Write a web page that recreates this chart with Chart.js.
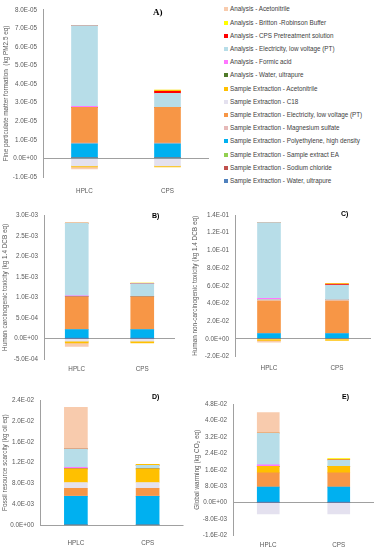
<!DOCTYPE html>
<html>
<head>
<meta charset="utf-8">
<script src="https://cdn.jsdelivr.net/npm/chart.js@4.4.1/dist/chart.umd.min.js"></script>
<style>
  body { margin: 0; background: #fff; width: 377px; height: 550px; overflow: hidden; position: relative; font-family: 'Liberation Sans', Arial, sans-serif; }
  canvas { position: absolute; }
  .tag { position: absolute; font-weight: bold; color: #000; white-space: nowrap; }
  .item { position: absolute; left: 224px; white-space: nowrap; font-size: 6.3px; color: #404040; height: 8px; line-height: 8px; }
  .item i { position: absolute; left: 0; top: 2px; width: 4px; height: 4px; }
  .item b { position: absolute; left: 6px; top: 0; font-weight: normal; }
</style>
</head>
<body>
<script>
// stacking order, bottom of the column first
const categories = ['HPLC', 'CPS'];
const seriesNames = [
  'Sample Extraction - Water, ultrapure',
  'Sample Extraction - Sodium chloride',
  'Sample Extraction - Sample extract EA',
  'Sample Extraction - Polyethylene, high density',
  'Sample Extraction - Magnesium sulfate',
  'Sample Extraction - Electricity, low voltage (PT)',
  'Sample Extraction - C18',
  'Sample Extraction - Acetonitrile',
  'Analysis - Water, ultrapure',
  'Analysis - Formic acid',
  'Analysis - Electricity, low voltage (PT)',
  'Analysis - CPS Pretreatment solution',
  'Analysis - Britton -Robinson Buffer',
  'Analysis - Acetonitrile'
];
const seriesColors = ['#4f81bd', '#c0504d', '#92d050', '#00b0f0', '#e6b9b8', '#f79646', '#e4e1ef',
  '#ffc000', '#4f7a28', '#ff77ff', '#b7dde8', '#ff0000', '#ffff00', '#f8cbad'];

// [HPLC, CPS] for each series, same order as seriesNames
const fineParticulate = [
  [3e-7, 3e-7], [0, 0], [0, 0], [7.5e-6, 7.5e-6], [5e-7, 5e-7], [1.92e-5, 1.92e-5], [-4e-6, -4e-6],
  [-6e-7, -6e-7], [0, 0], [6e-7, 0], [4.34e-5, 7.5e-6], [0, 1.2e-6], [0, 6e-7], [-1.1e-6, 0]
];
const humanCarcinogenic = [
  [5e-6, 5e-6], [0, 0], [0, 0], [2.15e-4, 2.15e-4], [4e-6, 4e-6], [7.96e-4, 7.96e-4], [-6.5e-5, -6.5e-5],
  [-4e-5, -4e-5], [0, 0], [2e-5, 0], [1.78e-3, 3.2e-4], [0, 1e-5], [0, 6e-6], [-8.5e-5, 0]
];
const humanNonCarcinogenic = [
  [5e-4, 5e-4], [0, 0], [0, 0], [5.5e-3, 5.5e-3], [5e-4, 5e-4], [3.65e-2, 3.65e-2], [1.5e-3, 1.5e-3],
  [-1.5e-3, -1.5e-3], [0, 0], [1.5e-3, 0], [8.55e-2, 1.65e-2], [0, 1e-3], [0, 5e-4], [-2.2e-3, 0]
];
const fossilScarcity = [
  [5e-5, 5e-5], [0, 0], [0, 0], [5.5e-3, 5.5e-3], [5e-5, 5e-5], [1.5e-3, 1.5e-3], [1.1e-3, 1.1e-3],
  [2.62e-3, 2.62e-3], [0, 0], [3e-4, 0], [3.53e-3, 6.5e-4], [0, 5e-5], [0, 1.5e-4], [7.95e-3, 0]
];
const globalWarming = [
  [1e-4, 1e-4], [0, 0], [0, 0], [7.4e-3, 7.4e-3], [1e-4, 1e-4], [6.9e-3, 6.9e-3], [-5.5e-3, -5.5e-3],
  [3.2e-3, 3.2e-3], [0, 0], [7e-4, 0], [1.56e-2, 3.1e-3], [0, 1e-4], [0, 6e-4], [9.9e-3, 0]
];

const axisColor = '#a0a0a0';
const textColor = '#595959';
const font = { family: "'Liberation Sans', Arial, sans-serif", size: 6.3 };

function sci(v) {
  if (Math.abs(v) < 1e-15) {
    return '0.0E+00';
  }
  let parts = v.toExponential(1).split('e');
  let n = parseInt(parts[1], 10);
  return parts[0] + 'E' + (n < 0 ? '-' : '+') + String(Math.abs(n)).padStart(2, '0');
}

function makeChart(box, area, yAxis, values, barW, labelPad, titlePad) {
  let canvas = document.createElement('canvas');
  canvas.width = box.w;
  canvas.height = box.h;
  canvas.style.left = box.x + 'px';
  canvas.style.top = box.y + 'px';
  document.body.appendChild(canvas);
  let datasets = seriesNames.map((name, i) => {
    return {
      label: name,
      data: values[i].map((v) => v),
      backgroundColor: seriesColors[i],
      borderWidth: 0,
      barThickness: barW,
      stack: 's'
    };
  });
  new Chart(canvas, {
    type: 'bar',
    data: { labels: categories, datasets: datasets },
    options: {
      responsive: false,
      animation: false,
      layout: { padding: { left: 0, top: area.t - box.y, right: box.x + box.w - area.r, bottom: 0 } },
      plugins: { legend: { display: false }, tooltip: { enabled: false } },
      scales: {
        x: {
          stacked: true,
          grid: { display: false, drawTicks: false },
          border: { display: false },
          ticks: { font: font, color: textColor, padding: labelPad, maxRotation: 0 },
          afterFit: (s) => { s.height = box.y + box.h - area.b; }
        },
        y: {
          stacked: true,
          min: yAxis.min,
          max: yAxis.max,
          ticks: { stepSize: yAxis.step, callback: (v) => sci(v), font: font, color: textColor, padding: 6 },
          grid: {
            drawTicks: false,
            color: (c) => Math.abs(c.tick.value) < yAxis.step / 1000 ? axisColor : 'rgba(0,0,0,0)'
          },
          border: { display: true, color: axisColor },
          title: {
            display: true,
            text: yAxis.title,
            font: { family: font.family, size: 6.4 },
            color: textColor,
            padding: { top: titlePad, bottom: 0 }
          },
          afterFit: (s) => { s.width = area.l - box.x; }
        }
      }
    }
  });
}

function addTag(text, x, y, size, family) {
  let d = document.createElement('div');
  d.className = 'tag';
  d.textContent = text;
  d.style.left = x + 'px';
  d.style.top = y + 'px';
  d.style.fontSize = size + 'px';
  d.style.fontFamily = family;
  document.body.appendChild(d);
}

function buildLegend() {
  for (let k = 0; k < seriesNames.length; k++) {
    let i = seriesNames.length - 1 - k;
    let row = document.createElement('div');
    row.className = 'item';
    row.style.top = (9.3 + 13.2 * k - 4) + 'px';
    row.innerHTML = '<i style="background:' + seriesColors[i] + '"></i><b>' + seriesNames[i] + '</b>';
    document.body.appendChild(row);
  }
}

makeChart({ x: 0, y: 0, w: 215, h: 200 }, { l: 43, r: 209, t: 6, b: 177 },
  { min: -1e-5, max: 8e-5, step: 1e-5, title: 'Fine particulate matter formation  (kg PM2.5 eq)' },
  fineParticulate, 26, 10, 2.5);
makeChart({ x: 0, y: 200, w: 190, h: 175 }, { l: 44, r: 175, t: 215.7, b: 359 },
  { min: -5e-4, max: 3e-3, step: 5e-4, title: 'Human carcinogenic toxicity (kg 1.4 DCB eq)' },
  humanCarcinogenic, 23, 6, 1.5);
makeChart({ x: 190, y: 200, w: 187, h: 175 }, { l: 235, r: 371, t: 215, b: 356.7 },
  { min: -2e-2, max: 1.4e-1, step: 2e-2, title: 'Human non-carcinogenic toxicity (kg 1.4 DCB eq)' },
  humanNonCarcinogenic, 23, 8, 1.5);
makeChart({ x: 0, y: 378, w: 190, h: 172 }, { l: 40, r: 183.5, t: 400, b: 525.3 },
  { min: 0, max: 2.4e-2, step: 4e-3, title: 'Fossil resource scarcity (kg oil eq)' },
  fossilScarcity, 23, 14, 1.5);
makeChart({ x: 190, y: 378, w: 187, h: 172 }, { l: 233, r: 374, t: 404.3, b: 535.3 },
  { min: -1.6e-2, max: 4.8e-2, step: 8e-3, title: 'Global warming (kg CO\u2082 eq)' },
  globalWarming, 22, 6, 3.5);

addTag('A)', 153, 7, 9, "'Liberation Serif', 'Times New Roman', serif");
addTag('B)', 152, 212, 7, "'Liberation Sans', Arial, sans-serif");
addTag('C)', 341, 210, 7, "'Liberation Sans', Arial, sans-serif");
addTag('D)', 152, 393, 7, "'Liberation Sans', Arial, sans-serif");
addTag('E)', 342, 393, 7, "'Liberation Sans', Arial, sans-serif");
buildLegend();
</script>
</body>
</html>
